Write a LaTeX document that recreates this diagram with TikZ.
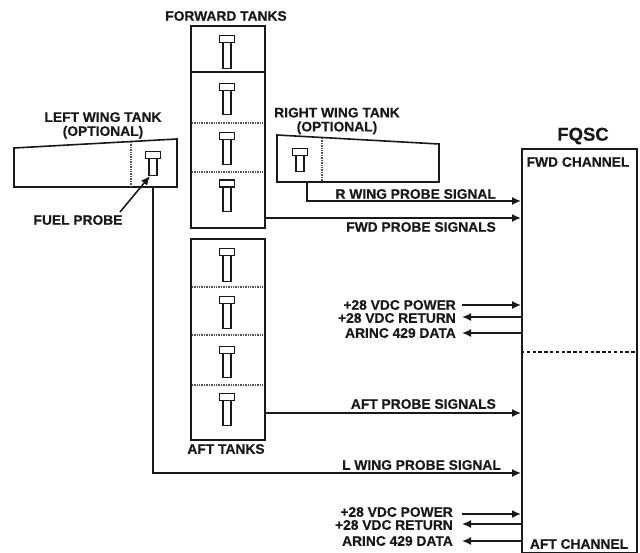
\documentclass[tikz,border=0pt]{standalone}
\usepackage{fontspec}
\setmainfont[BoldFeatures={FakeBold=0.35}]{Liberation Sans}
\usetikzlibrary{arrows.meta,calc}
\definecolor{ink}{gray}{0.1}
\tikzset{
  x=1pt,y=-1pt,
  line/.style={draw=ink,line width=1.6pt},
  thinline/.style={draw=ink,line width=1.3pt},
  sig/.style={line,-{Latex[length=9pt,width=8pt]}},
  tank/.style={line,inner sep=0pt,minimum width=74pt},
  lab/.style={text=ink,font=\fontsize{13.8}{14}\bfseries\selectfont,inner sep=0pt,align=center},
  labr/.style={lab,anchor=east},
  title/.style={text=ink,font=\fontsize{18.5}{20}\bfseries\selectfont,inner sep=0pt},
  dotline/.style={draw=ink!75,line width=1.1pt,dash pattern=on 1pt off 0.7pt},
  dashline/.style={draw=ink,line width=1.3pt,dash pattern=on 3.4pt off 2.4pt},
  phead/.style={thinline,fill=white,inner sep=0pt,minimum width=15pt,minimum height=7pt},
  pstem/.style={thinline,fill=white,inner sep=0pt,minimum width=8pt,anchor=north},
}
\newcommand{\probeat}[4]{% name, centre x, head top, stem bottom
  \pgfmathsetmacro{\stemh}{#4-#3-6}
  \node[pstem,minimum height=\stemh pt] (#1s) at (#2,#3+6) {};
  \node[phead,anchor=north] (#1h) at (#2,#3) {};
}
\begin{document}
\begin{tikzpicture}
\useasboundingbox (0,0) rectangle (640,553);

% forward tanks
\node[tank,minimum height=202pt,anchor=north west] (fwd) at (190,25) {};
\coordinate (fa) at (190,72); \coordinate (fb) at (264,72);
\draw[line] (fa) -- (fb);
\coordinate (fc) at (192,123); \coordinate (fd) at (262,123);
\draw[dotline] (fc) -- (fd);
\coordinate (fe) at (192,172); \coordinate (ff) at (262,172);
\draw[dotline] (fe) -- (ff);
\probeat{f1}{227}{35}{68}
\probeat{f2}{227}{83}{114}
\probeat{f3}{227}{132}{164}
\probeat{f4}{227}{179.5}{211}

% aft tanks
\node[tank,minimum height=201pt,anchor=north west] (aft) at (190,238) {};
\coordinate (aa) at (192,287); \coordinate (ab) at (262,287);
\draw[dotline] (aa) -- (ab);
\coordinate (ac) at (192,335); \coordinate (ad) at (262,335);
\draw[dotline] (ac) -- (ad);
\coordinate (ae) at (192,385); \coordinate (af) at (262,385);
\draw[dotline] (ae) -- (af);
\probeat{a1}{227}{248}{281}
\probeat{a2}{227}{296}{328}
\probeat{a3}{227}{346}{377}
\probeat{a4}{227}{393}{425}

% left wing tank
\coordinate (la) at (14,148); \coordinate (lb) at (177,139);
\coordinate (lc) at (177,187); \coordinate (ld) at (14,187);
\draw[line,line join=miter] (la) -- (lb) -- (lc) -- (ld) -- cycle;
\coordinate (le) at (131,142); \coordinate (lf) at (131,187);
\draw[dotline] (le) -- (lf);
\probeat{lp}{153}{151}{175}

% right wing tank
\coordinate (ra) at (277,135); \coordinate (rb) at (439,144);
\coordinate (rc) at (439,182); \coordinate (rd) at (277,182);
\draw[line,line join=miter] (ra) -- (rb) -- (rc) -- (rd) -- cycle;
\coordinate (re) at (322,138); \coordinate (rf) at (322,182);
\draw[dotline] (re) -- (rf);
\probeat{rp}{300}{148}{171}

% FQSC
\node[line,inner sep=0pt,minimum width=115pt,minimum height=404pt,anchor=north west] (fqsc) at (521,148) {};
\coordinate (da) at (521,352); \coordinate (db) at (636,352);
\draw[dashline] (da) -- (db);

% labels
\node[lab] (tfwd) at (226,16) {FORWARD TANKS};
\node[lab] (taft) at (226,449) {AFT TANKS};
\node[lab] (tlw) at (103,125.5) {LEFT WING TANK\\(OPTIONAL)};
\node[lab] (trw) at (337,121) {RIGHT WING TANK\\(OPTIONAL)};
\node[lab] (tprobe) at (78,220) {FUEL PROBE};
\node[title] (tq) at (583,136) {FQSC};
\node[lab] (tfc) at (578,162) {FWD CHANNEL};
\node[lab] (tac) at (579,544) {AFT CHANNEL};
\node[labr] (trs) at (496,194) {R WING PROBE SIGNAL};
\node[labr] (tfs) at (496,227) {FWD PROBE SIGNALS};
\node[labr] (tas) at (496,404) {AFT PROBE SIGNALS};
\node[labr] (tls) at (501,465) {L WING PROBE SIGNAL};
\node[labr] (tp1) at (456,305) {+28 VDC POWER};
\node[labr] (tr1) at (456,318) {+28 VDC RETURN};
\node[labr] (td1) at (456,333) {ARINC 429 DATA};
\node[labr] (tp2) at (453,512) {+28 VDC POWER};
\node[labr] (tr2) at (453,525) {+28 VDC RETURN};
\node[labr] (td2) at (453,541) {ARINC 429 DATA};

% connectors
\coordinate (lout) at (153,187);
\coordinate (lbend) at (153,473);
\draw[sig] (lout) -- (lbend) -- (lbend -| fqsc.west);
\coordinate (rout) at (307,182);
\coordinate (rbend) at (307,201);
\draw[sig] (rout) -- (rbend) -- (rbend -| fqsc.west);
\coordinate (fy) at (300,218);
\draw[sig] (fy -| fwd.east) -- (fy -| fqsc.west);
\coordinate (ay) at (300,413);
\draw[sig] (ay -| aft.east) -- (ay -| fqsc.west);
\coordinate (pa) at (462,305);
\draw[sig] (pa) -- (pa -| fqsc.west);
\coordinate (pb) at (462,317);
\draw[sig] (pb -| fqsc.west) -- (pb);
\coordinate (pc) at (462,333);
\draw[sig] (pc -| fqsc.west) -- (pc);
\coordinate (qa) at (462,514);
\draw[sig] (qa) -- (qa -| fqsc.west);
\coordinate (qb) at (462,524);
\draw[sig] (qb -| fqsc.west) -- (qb);
\coordinate (qc) at (462,541);
\draw[sig] (qc -| fqsc.west) -- (qc);
\coordinate (ptip) at (150,176);
\coordinate (pstart) at (120,212);
\draw[sig] (pstart) -- (ptip);
\end{tikzpicture}
\end{document}
